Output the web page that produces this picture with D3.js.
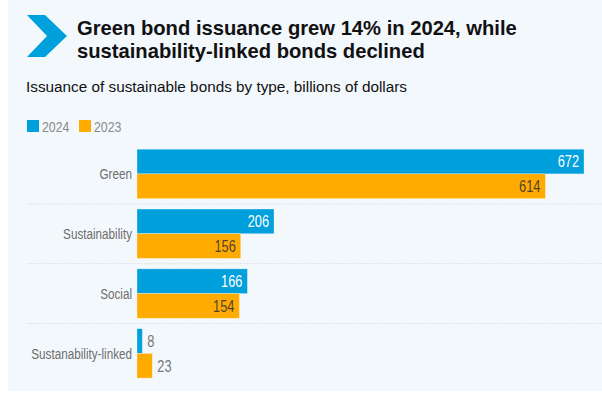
<!DOCTYPE html>
<html>
<head>
<meta charset="utf-8">
<script src="https://cdn.jsdelivr.net/npm/d3@7"></script>
<style>
  body { margin: 0; background: #fff; }
  svg { display: block; }
  .title { font-family: "Liberation Sans", Arial, sans-serif; font-weight: bold; font-size: 20.2px; fill: #111; }
  .subtitle { font-family: "Liberation Sans", Arial, sans-serif; font-size: 15.3px; fill: #111; }
  .narrow { font-family: "Liberation Sans", Arial, sans-serif; }
</style>
</head>
<body>
<svg id="chart" width="602" height="393"></svg>
<script>
// values
var categories = ["Green", "Sustainability", "Social", "Sustanability-linked"];
var years = ["2024", "2023"];
var values2024 = [672, 206, 166, 8];
var values2023 = [614, 156, 154, 23];
var colors = ["#00a0dc", "#ffab00"];

var svg = d3.select("#chart"),
    width = +svg.attr("width"),
    height = +svg.attr("height");

// the reference uses a condensed face; squeeze text horizontally to mimic it
function squeeze(px, py, k) {
    return "translate(" + px + "," + py + ") scale(" + k + ",1)";
}

// panel background
svg.append("rect")
    .attr("x", 8).attr("y", 0)
    .attr("width", width - 8).attr("height", 391)
    .attr("fill", "#f3f8fd");

// chevron mark
svg.append("path")
    .attr("d", "M27,15 L45,15 L67,36 L45,57 L27,57 L47,36 Z")
    .attr("fill", "#00a0dc");

svg.append("text").attr("class", "title")
    .attr("x", 77).attr("y", 35)
    .text("Green bond issuance grew 14% in 2024, while");
svg.append("text").attr("class", "title")
    .attr("x", 77).attr("y", 58)
    .text("sustainability-linked bonds declined");

svg.append("text").attr("class", "subtitle")
    .attr("x", 26).attr("y", 92)
    .text("Issuance of sustainable bonds by type, billions of dollars");

// legend
var legend = svg.append("g").attr("transform", "translate(27,120)");
var lx = [0, 52];
years.forEach(function(y, i) {
    legend.append("rect")
        .attr("x", lx[i]).attr("y", 0)
        .attr("width", 12).attr("height", 12)
        .attr("fill", colors[i]);
    legend.append("text").attr("class", "narrow")
        .attr("transform", squeeze(lx[i] + 15, 12, 0.88))
        .attr("font-size", 14)
        .attr("fill", "#8a8a8a")
        .text(y);
});

var data = categories.map(function(c, i) {
    return {cat: c, vals: [values2024[i], values2023[i]]};
});

var x = d3.scaleLinear().domain([0, 672]).range([137, 584]);
var y = d3.scaleBand().domain(categories).range([144, 383.3])
    .paddingInner(0.174).paddingOuter(0.087);
var y1 = d3.scaleBand().domain([0, 1]).range([0, y.bandwidth()]);

// dotted separators between groups
var step = y.step();
svg.selectAll(".sep")
    .data(categories.slice(1))
    .enter().append("line")
    .attr("class", "sep")
    .attr("x1", 27).attr("x2", width)
    .attr("y1", function(d) { return y(d) - (step - y.bandwidth()) / 2; })
    .attr("y2", function(d) { return y(d) - (step - y.bandwidth()) / 2; })
    .attr("stroke", "#cfd4d8")
    .attr("stroke-width", 0.8)
    .attr("stroke-dasharray", "1.5,1.5");

// category labels
svg.selectAll(".cat")
    .data(data)
    .enter().append("text")
    .attr("class", "cat narrow")
    .attr("transform", function(d) { return squeeze(132, y(d.cat) + y.bandwidth() / 2, 0.78); })
    .attr("dy", "0.35em")
    .attr("text-anchor", "end")
    .attr("font-size", 15)
    .attr("fill", "#6e6e6e")
    .text(function(d) { return d.cat; });

var groups = svg.selectAll(".grp")
    .data(data)
    .enter().append("g")
    .attr("class", "grp")
    .attr("transform", function(d) { return "translate(0," + y(d.cat) + ")"; });

var bars = groups.selectAll(".bar")
    .data(function(d) { return d.vals.map(function(v, i) { return {v: v, i: i}; }); })
    .enter();

bars.append("rect")
    .attr("class", "bar")
    .attr("x", x(0))
    .attr("y", function(d) { return y1(d.i); })
    .attr("width", function(d) { return x(d.v) - x(0); })
    .attr("height", y1.bandwidth())
    .attr("fill", function(d) { return colors[d.i]; })
    .attr("stroke", "rgba(255,255,255,0.5)")
    .attr("stroke-width", 0.6);

bars.append("text")
    .attr("class", "narrow")
    .attr("font-size", 16)
    .attr("transform", function(d) {
        var px = d.v > 40 ? x(d.v) - 5 : x(d.v) + 5;
        return squeeze(px, y1(d.i) + y1.bandwidth() / 2, 0.8);
    })
    .attr("dy", "0.36em")
    .attr("text-anchor", function(d) { return d.v > 40 ? "end" : "start"; })
    .attr("fill", function(d) {
        if (d.v <= 40) return "#777";
        return d.i === 0 ? "#fff" : "#4f4430";
    })
    .text(function(d) { return d.v; });
</script>
</body>
</html>
